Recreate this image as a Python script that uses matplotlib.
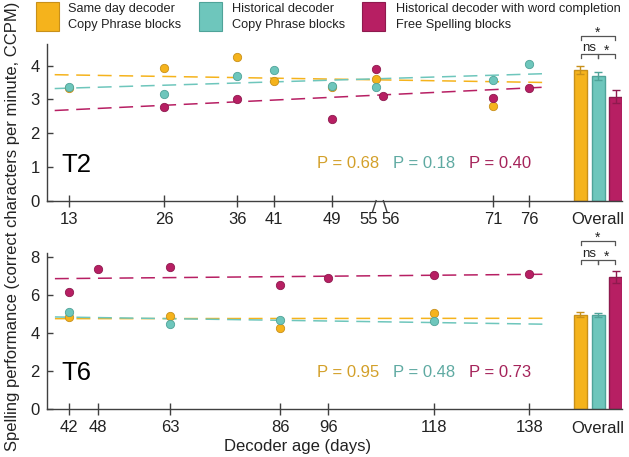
import numpy as np
import matplotlib
matplotlib.use("Agg")
import matplotlib.pyplot as plt
from matplotlib.patches import Rectangle
from matplotlib.transforms import ScaledTranslation

plt.rcParams['font.family'] = ['Liberation Sans', 'DejaVu Sans']
plt.rcParams['lines.scale_dashes'] = False

# colours: same day / historical / historical + word completion
c_fill = ['#F5B31C', '#6EC6BC', '#B71F63']
c_edge = ['#C8901A', '#4FA399', '#8E1A4E']
c_text = ['#D3A02A', '#5FAAA2', '#A5235A']

legend_labels = ["Same day decoder\nCopy Phrase blocks",
                 "Historical decoder\nCopy Phrase blocks",
                 "Historical decoder with word completion\nFree Spelling blocks"]

# ---- T2 ----
t2_days = [13, 26, 36, 41, 49, 55, 56, 71, 76]
t2_same_x = [13, 26, 36, 41, 49, 55, 71]
t2_same_y = [3.33, 3.92, 4.24, 3.54, 3.38, 3.59, 2.80]
t2_hist_x = [13, 26, 36, 41, 49, 55, 71, 76]
t2_hist_y = [3.38, 3.15, 3.69, 3.86, 3.41, 3.36, 3.56, 4.04]
t2_wc_x = [26, 36, 49, 55, 56, 71, 76]
t2_wc_y = [2.78, 3.00, 2.43, 3.91, 3.09, 3.04, 3.33]
t2_fit_x = [11, 78]
t2_fit = [[3.73, 3.50], [3.32, 3.76], [2.67, 3.36]]
t2_p = ["P = 0.68", "P = 0.18", "P = 0.40"]
t2_bar = [3.87, 3.69, 3.08]
t2_err = [0.11, 0.11, 0.19]

# ---- T6 ----
t6_days = [42, 48, 63, 86, 96, 118, 138]
t6_same_x = [42, 63, 86, 118]
t6_same_y = [4.85, 4.88, 4.25, 5.06]
t6_hist_x = [42, 63, 86, 118]
t6_hist_y = [5.08, 4.45, 4.67, 4.64]
t6_wc_x = [42, 48, 63, 86, 96, 118, 138]
t6_wc_y = [6.13, 7.37, 7.47, 6.51, 6.88, 7.04, 7.11]
t6_fit_x = [39, 141]
t6_fit = [[4.74, 4.76], [4.83, 4.45], [6.84, 7.07]]
t6_p = ["P = 0.95", "P = 0.48", "P = 0.73"]
t6_bar = [4.94, 4.92, 6.92]
t6_err = [0.13, 0.10, 0.32]

fig = plt.figure(figsize=(6.29, 4.57), dpi=100)
W, H = 629, 457


def panel(rect_px, days, xs, ys, fit_x, fits, ptxt, bars, errs, ymax, yticks,
          name, sig_px, break_pair=None):
    left, top, right, bottom = rect_px
    ax = fig.add_axes([left / W, 1 - bottom / H, (right - left) / W, (bottom - top) / H])
    # pixel -> day scale so first and last age sit at the same place in both panels
    d0, d1 = days[0], days[-1]
    s = (d1 - d0) / 460.2
    ax.set_xlim(d0 - 22.6 * s, d0 + 553 * s)
    ax.set_ylim(0, ymax)
    py = lambda p: (bottom - p) / (bottom - top) * ymax   # pixel row -> data y

    for i in range(3):
        ax.plot(fit_x, fits[i], color=c_fill[i], lw=1.1, dashes=(10, 5.5), zorder=2)
    for i in range(3):
        ax.plot(xs[i], ys[i], 'o', ms=6, color=c_fill[i], mec=c_edge[i], mew=0.6, zorder=3)

    bx = [d0 + (580.3 - 69.3) * s, d0 + (598 - 69.3) * s, d0 + (615.7 - 69.3) * s]
    ax.bar(bx, bars, width=13 * s, color=c_fill, edgecolor=c_edge, lw=1, zorder=2)
    for i in range(3):
        ax.errorbar(bx[i], bars[i], yerr=errs[i], fmt='none', ecolor=c_edge[i],
                    elinewidth=1, capsize=2.7, capthick=1, zorder=4)

    # significance brackets (pixel rows: low line, low tick end, high line, high tick end)
    lo_y, lo_t, hi_y, hi_t = [py(p) for p in sig_px]
    k = 0.45 * s
    for a, b, y, t in [(0, 1, lo_y, lo_t), (1, 2, lo_y, lo_t), (0, 2, hi_y, hi_t)]:
        ax.plot([bx[a] + k, bx[a] + k, bx[b] - k, bx[b] - k], [t, y, y, t],
                color='#555555', lw=0.9, clip_on=False)
    ax.text((bx[0] + bx[1]) / 2, py(sig_px[0] - 6), "ns", ha='center', va='center',
            fontsize=9.5, color='#222222')
    ax.text((bx[1] + bx[2]) / 2, py(sig_px[0] - 3.5), "*", ha='center', va='center',
            fontsize=10, color='#222222')
    ax.text((bx[0] + bx[2]) / 2, py(sig_px[2] - 3.5), "*", ha='center', va='center',
            fontsize=10, color='#222222')

    ax.set_xticks(days)
    ax.set_xticklabels([str(d) for d in days])
    ax.set_yticks(yticks)
    ax.tick_params(axis='x', direction='inout', length=8, width=1, colors='#404040',
                   labelcolor='#222222', labelsize=12, pad=4)
    ax.tick_params(axis='y', direction='in', length=4, width=1, colors='#404040',
                   labelcolor='#222222', labelsize=12, pad=5)
    ax.spines['top'].set_visible(False)
    ax.spines['right'].set_visible(False)
    for sp in ('left', 'bottom'):
        ax.spines[sp].set_color('#404040')
        ax.spines[sp].set_linewidth(1)

    # "Overall" label under the bars
    ax.text(bx[1], -0.075, "Overall", transform=ax.get_xaxis_transform(),
            ha='center', va='top', fontsize=12, color='#222222')

    if break_pair is not None:
        ticks = ax.xaxis.get_major_ticks()
        tr = ax.get_xaxis_transform()
        for j, d in enumerate(days):
            if d in break_pair:
                ticks[j].tick1line.set_visible(False)
                sgn = -1 if d == break_pair[0] else 1
                ax.plot([d, d + sgn * 3.5 * s], [0, -0.07], color='#404040', lw=1,
                        transform=tr, clip_on=False)
                lab = ticks[j].label1
                lab.set_transform(lab.get_transform() +
                                  ScaledTranslation(sgn * 7.5 / 100, 0, fig.dpi_scale_trans))

    ax.text(0.026, 0.23, name, transform=ax.transAxes, fontsize=18.5, va='center')
    for i, (xp, t) in enumerate(zip([0.5235, 0.655, 0.7875], ptxt)):
        ax.text(xp, 0.235, t, transform=ax.transAxes, ha='center', va='center',
                fontsize=12, color=c_text[i])
    return ax


ax1 = panel((46.7, 44.3, 622.3, 200.7), t2_days,
            [t2_same_x, t2_hist_x, t2_wc_x], [t2_same_y, t2_hist_y, t2_wc_y],
            t2_fit_x, t2_fit, t2_p, t2_bar, t2_err, 4.63, [0, 1, 2, 3, 4], "T2",
            (54, 57.5, 36, 40), break_pair=(55, 56))
ax2 = panel((46.7, 253.3, 622.3, 409), t6_days,
            [t6_same_x, t6_hist_x, t6_wc_x], [t6_same_y, t6_hist_y, t6_wc_y],
            t6_fit_x, t6_fit, t6_p, t6_bar, t6_err, 8.17, [0, 2, 4, 6, 8], "T6",
            (260, 263.5, 241, 245))

# legend drawn by hand along the top
for i, (xl, xt) in enumerate([(36, 68), (199, 232), (362, 396)]):
    fig.patches.append(Rectangle((xl / W, 1 - 31 / H), 23 / W, 29 / H,
                                 transform=fig.transFigure, facecolor=c_fill[i],
                                 edgecolor=c_edge[i], lw=0.8))
    fig.text(xt / W, 1 - 17 / H, legend_labels[i], fontsize=9.2, va='center',
             ha='left', linespacing=1.35, color='#222222')

fig.text(13 / W, 1 - 226 / H, "Spelling performance (correct characters per minute, CCPM)",
         rotation=90, ha='center', va='center', fontsize=12, color='#222222')
fig.text(298 / W, 1 - 446 / H, "Decoder age (days)", ha='center', va='center',
         fontsize=12, color='#222222')

fig.savefig("out.png", dpi=100)
